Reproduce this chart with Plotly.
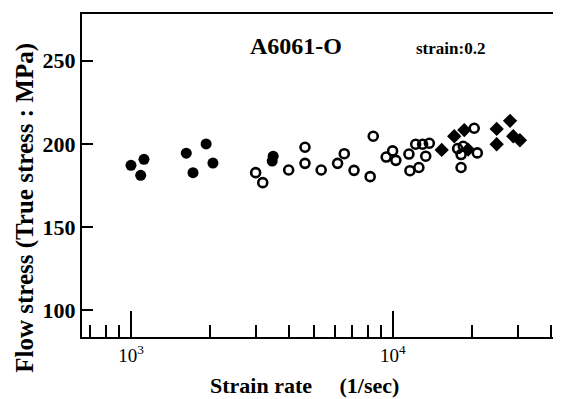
import plotly.graph_objects as go

# Filled circles
fc_rate = [1000, 1121, 1089, 1626, 1936, 1725, 2055, 3490, 3460]
fc_stress = [187.1, 190.7, 181.1, 194.4, 200.0, 182.7, 188.5, 192.6, 189.7]

# Open circles
oc_rate = [2992, 3184, 3999, 4616, 4616, 5322, 6148, 6520, 7103, 8186, 8410,
           9424, 9970, 10260, 11510, 12210, 11610, 12560, 12980, 13770, 13340,
           17660, 18550, 18200, 20430, 20990, 18200]
oc_stress = [182.7, 176.7, 184.3, 198.0, 188.3, 184.3, 188.3, 194.1, 184.1, 180.3, 204.6,
             192.1, 195.8, 190.1, 193.9, 199.8, 183.9, 185.8, 199.8, 200.4, 192.6,
             197.2, 198.6, 193.6, 209.4, 194.6, 185.8]

# Filled diamonds
fd_rate = [15350, 17140, 18720, 19360, 24890, 27990, 24890, 28790, 30530]
fd_stress = [196.4, 204.6, 208.3, 196.6, 209.0, 213.9, 199.8, 204.6, 202.2]

x_major = [1000, 10000]
x_major_text = ["10<sup>3</sup>", "10<sup>4</sup>"]
x_minor = [700, 800, 900, 2000, 3000, 4000, 5000, 6000, 7000, 8000, 9000,
           20000, 30000, 40000]
y_ticks = [100, 150, 200, 250]

SERIF = "Liberation Serif"

fig = go.Figure()
fig.add_trace(go.Scatter(x=fc_rate, y=fc_stress, mode="markers",
                         marker=dict(symbol="circle", size=11, color="black")))
fig.add_trace(go.Scatter(x=oc_rate, y=oc_stress, mode="markers",
                         marker=dict(symbol="circle-open", size=9, color="black",
                                     line=dict(width=2.6, color="black"))))
fig.add_trace(go.Scatter(x=fd_rate, y=fd_stress, mode="markers",
                         marker=dict(symbol="diamond", size=11, color="black")))

# page has an 8px body margin, so the figure is 8px smaller and shifted
fig.update_layout(
    width=553, height=391,
    margin=dict(l=74, r=8, t=4, b=62),
    paper_bgcolor="white", plot_bgcolor="white",
    showlegend=False,
    font=dict(family=SERIF, color="black"),
)
fig.update_xaxes(
    type="log", range=[2.813, 4.611],
    showgrid=False, zeroline=False,
    showline=True, linecolor="black", linewidth=2.2, mirror=True,
    ticks="inside", ticklen=26, tickwidth=2, tickcolor="black",
    tickvals=x_major, ticktext=x_major_text,
    tickfont=dict(family=SERIF, size=19, color="black"),
    minor=dict(ticks="inside", ticklen=12, tickwidth=2, tickcolor="black",
               tickvals=x_minor, showgrid=False),
)
fig.update_yaxes(
    range=[83.9, 278.1],
    showgrid=False, zeroline=False,
    showline=True, linecolor="black", linewidth=2.2, mirror=True,
    ticks="inside", ticklen=11, tickwidth=2, tickcolor="black",
    tickvals=y_ticks,
    tickfont=dict(family=SERIF, size=22, color="black", weight="bold"),
)

fig.add_annotation(text="A6061-O", xref="paper", yref="paper",
                   x=(296 - 82) / 471, y=(337 - 44) / 325, showarrow=False,
                   xanchor="center", yanchor="middle",
                   font=dict(family=SERIF, size=24, color="black", weight="bold"))
fig.add_annotation(text="strain:0.2", xref="paper", yref="paper",
                   x=(450 - 82) / 471, y=(337 - 47) / 325, showarrow=False,
                   xanchor="center", yanchor="middle",
                   font=dict(family=SERIF, size=17, color="black", weight="bold"))
fig.add_annotation(text="Flow stress (True stress : MPa)", xref="paper", yref="paper",
                   x=(25 - 82) / 471, y=(337 - 207) / 325, showarrow=False,
                   textangle=-90, xanchor="center", yanchor="middle",
                   font=dict(family=SERIF, size=25, color="black", weight="bold"))
fig.add_annotation(text="Strain rate　 (1/sec)", xref="paper", yref="paper",
                   x=(304 - 82) / 471, y=(337 - 386) / 325, showarrow=False,
                   xanchor="center", yanchor="middle",
                   font=dict(family=SERIF, size=22, color="black", weight="bold"))

fig.write_html("out.html")
